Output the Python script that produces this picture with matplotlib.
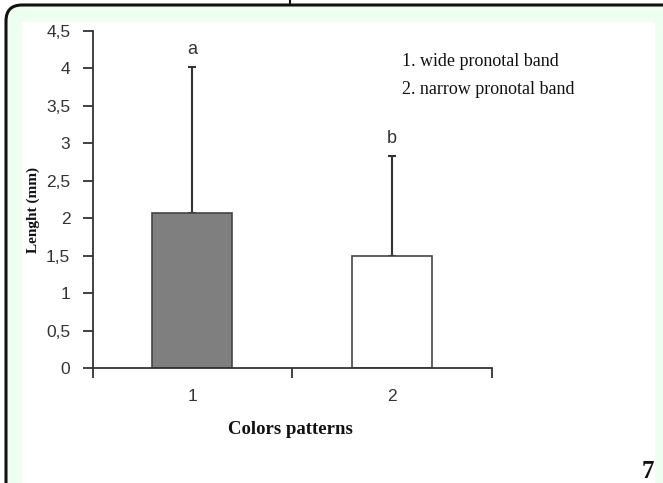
import matplotlib
matplotlib.use("Agg")
import matplotlib.pyplot as plt
from matplotlib.patches import FancyBboxPatch, Rectangle
from matplotlib.lines import Line2D
from matplotlib.ticker import FixedLocator, FuncFormatter

categories = ["1", "2"]
means = [2.07, 1.49]
upper_err = [1.95, 1.34]
letters = ["a", "b"]
bar_colors = ["#7f7f7f", "#ffffff"]
legend_lines = ["1. wide pronotal band", "2. narrow pronotal band"]
y_ticks = [0, 0.5, 1, 1.5, 2, 2.5, 3, 3.5, 4, 4.5]

W, H = 663, 483
fig = plt.figure(figsize=(W / 100, H / 100), dpi=100)
fig.patch.set_facecolor("white")

def fx(px):
    return px / W

def fy(py):
    return 1 - py / H

# outer green rounded panel (inch coordinates, right and bottom edges off-canvas)
panel = FancyBboxPatch((0.06, -0.5), 8.0, (H - 5) / 100 + 0.5,
                       boxstyle="round,pad=0,rounding_size=0.16",
                       transform=fig.dpi_scale_trans, facecolor="#ecfff1",
                       edgecolor="#111111", linewidth=2.2, zorder=-3)
fig.patches.append(panel)
inner = Rectangle((fx(22), 0), fx(655 - 22), (H - 22) / H,
                  transform=fig.transFigure, facecolor="white",
                  edgecolor="none", zorder=-2)
fig.patches.append(inner)
fig.lines.append(Line2D([fx(290), fx(290)], [fy(0), fy(4)],
                        transform=fig.transFigure, color="#111111", lw=1.5))

ax = fig.add_axes([fx(92.5), fy(368), fx(492 - 92.5), (368 - 31) / H])
ax.set_facecolor("none")
ax.set_zorder(1)

xpos = [0.5, 1.5]
ax.bar(xpos, means, width=0.4, color=bar_colors, edgecolor="#444444",
       linewidth=1.2, zorder=2)
ax.errorbar(xpos, means, yerr=[[0, 0], upper_err], fmt="none",
            ecolor="#333333", elinewidth=1.5, capsize=3, capthick=1.5, zorder=1)
for x, m, e, t in zip(xpos, means, upper_err, letters):
    ax.text(x, m + e + 0.23, t, ha="center", va="center", fontsize=13,
            family="Liberation Sans", color="#333333")

ax.set_xlim(0, 2)
ax.set_ylim(0, 4.5)
for s in ["top", "right"]:
    ax.spines[s].set_visible(False)
for s in ["left", "bottom"]:
    ax.spines[s].set_color("#333333")
    ax.spines[s].set_linewidth(1.3)

ax.xaxis.set_major_locator(FixedLocator([0, 1, 2]))
ax.xaxis.set_major_formatter(FuncFormatter(lambda v, p: ""))
ax.xaxis.set_minor_locator(FixedLocator(xpos))
ax.set_xticklabels(categories, minor=True)
ax.tick_params(axis="x", which="major", length=7, width=1.3, color="#333333", direction="out")
ax.tick_params(axis="x", which="minor", length=0, pad=15, labelsize=12.5,
               labelcolor="#333333")
ax.set_yticks(y_ticks)
ax.set_yticklabels([("%g" % v).replace(".", ",") for v in y_ticks])
ax.tick_params(axis="y", length=7, width=1.3, color="#333333", labelsize=12.5,
               labelcolor="#333333", pad=9)
for lab in ax.get_xticklabels(minor=True) + ax.get_yticklabels():
    lab.set_family("Liberation Sans")

ax.set_xlabel("Colors patterns", family="Liberation Serif", fontweight="bold",
              fontsize=13.5, color="#111111")
ax.xaxis.set_label_coords(0.495, (368 - 430) / 337)
ax.xaxis.label.set_va("center")
ax.set_ylabel("Lenght (mm)", family="Liberation Serif", fontweight="bold",
              fontsize=11, color="#111111")
ax.yaxis.set_label_coords((33 - 92.5) / 399.5, (368 - 210) / 337)
ax.yaxis.label.set_va("center")

fig.text(fx(402), fy(62), legend_lines[0], family="Liberation Serif",
         fontsize=13, va="center", ha="left", color="#111111")
fig.text(fx(402), fy(90), legend_lines[1], family="Liberation Serif",
         fontsize=13, va="center", ha="left", color="#111111")
fig.text(fx(648), fy(472), "7", family="Liberation Serif", fontweight="bold",
         fontsize=18, va="center", ha="center", color="#111111")

fig.savefig("out.png", dpi=100, facecolor=fig.get_facecolor())
